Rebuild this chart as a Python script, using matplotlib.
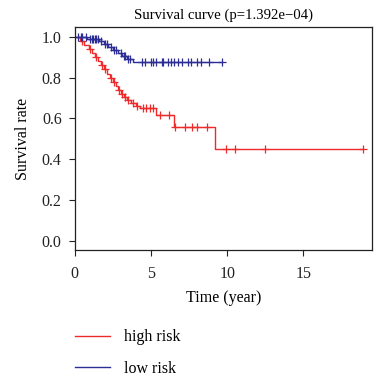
import numpy as np
import matplotlib
matplotlib.use("Agg")
import matplotlib.pyplot as plt

# Kaplan-Meier steps (time in years, survival after the step)
high_t = [0, 0.35, 0.6, 0.9, 1.1, 1.3, 1.5, 1.7, 1.9, 2.1, 2.3, 2.5, 2.7, 2.85,
          3.0, 3.2, 3.4, 3.7, 4.0, 4.3, 5.3, 6.5, 9.2]
high_s = [1.0, 0.98, 0.96, 0.94, 0.92, 0.90, 0.88, 0.86, 0.84, 0.82, 0.80, 0.78,
          0.76, 0.74, 0.72, 0.705, 0.69, 0.675, 0.663, 0.652, 0.617, 0.56, 0.45]
high_end = 18.9
high_cens = [0.5, 1.0, 1.4, 1.8, 2.0, 2.4, 2.6, 2.9, 3.1, 3.3, 3.5, 3.8, 4.1,
             4.45, 4.7, 4.95, 5.15, 5.6, 6.2, 6.55, 7.2, 7.7, 8.0, 8.7,
             9.9, 10.5, 12.5, 18.9]

low_t = [0, 0.8, 1.6, 1.9, 2.2, 2.5, 2.8, 3.1, 3.4, 3.8]
low_s = [1.0, 0.99, 0.98, 0.965, 0.95, 0.935, 0.92, 0.905, 0.89, 0.877]
low_end = 9.65
low_cens = [0.2, 0.4, 0.5, 0.7, 1.0, 1.1, 1.2, 1.3, 1.4, 1.5, 1.7, 2.0, 2.1,
            2.4, 2.6, 2.7, 3.0, 3.2, 3.3, 3.5, 3.6, 4.4, 4.6, 5.0, 5.1, 5.3,
            5.7, 5.8, 6.1, 6.3, 6.5, 6.8, 7.0, 7.4, 7.6, 8.0, 8.3, 8.8, 9.65]

red = "#ee2a2a"
blue = "#2d2d96"

plt.rcParams["font.family"] = ["Liberation Serif", "DejaVu Serif"]
plt.rcParams["font.size"] = 11.5

fig = plt.figure(figsize=(3.8, 3.79), dpi=100)
ax = fig.add_axes([0.197, 0.340, 0.782, 0.589])


def km(ax, t, s, end, cens, color):
    tt = list(t) + [end]
    ss = list(s) + [s[-1]]
    ax.plot(tt, ss, drawstyle="steps-post", color=color, lw=1.0)
    idx = np.searchsorted(t, cens, side="right") - 1
    ax.plot(cens, np.array(s)[idx], "+", color=color, ms=6, mew=0.9)


km(ax, high_t, high_s, high_end, high_cens, red)
km(ax, low_t, low_s, low_end, low_cens, blue)

ax.set_xlim(0, 19.5)
ax.set_ylim(-0.044, 1.048)
ax.set_xticks([0, 5, 10, 15])
ax.set_yticks([0, 0.2, 0.4, 0.6, 0.8, 1.0])
ax.set_yticklabels(["0.0", "0.2", "0.4", "0.6", "0.8", "1.0"])
ax.tick_params(length=4.5, width=0.8, colors="#222222")
ax.tick_params(axis="y", pad=5)
ax.tick_params(axis="x", pad=7)
for sp in ax.spines.values():
    sp.set_linewidth(0.9)
    sp.set_color("#222222")

ax.set_title("Survival curve (p=1.392e\u221204)", pad=6, fontsize=10.6)
ax.set_xlabel("Time (year)", labelpad=6)
ax.set_ylabel("Survival rate", labelpad=8)

h1, = ax.plot([], [], color=red, lw=1.0, label="high risk")
h2, = ax.plot([], [], color=blue, lw=1.0, label="low risk")
fig.legend(handles=[h1, h2], loc="upper left", bbox_to_anchor=(0.180, 0.148),
           frameon=False, handlelength=2.2, handletextpad=0.9,
           labelspacing=0.96, borderaxespad=0)

fig.savefig("out.png", dpi=100)
